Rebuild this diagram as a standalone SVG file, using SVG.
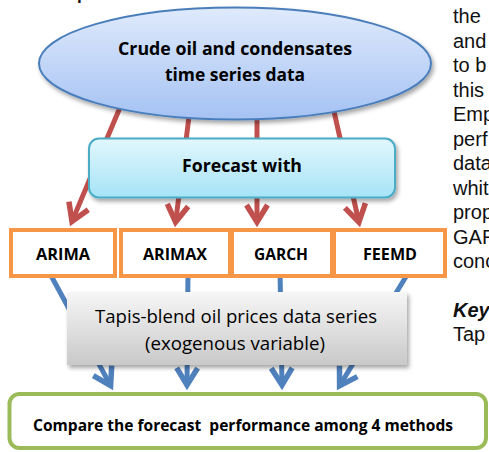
<svg xmlns="http://www.w3.org/2000/svg" width="489" height="452" viewBox="0 0 489 452">
  <style>
    .lbl { font-family: "Open Sans", "Liberation Sans", sans-serif; fill: #000; text-anchor: middle; }
    .b { font-weight: bold; }
    .side { font-family: "Liberation Sans", Arial, sans-serif; font-size: 20px; fill: #111; }
    .red { fill: none; stroke: #c0504d; stroke-width: 5; }
    .blue { fill: none; stroke: #4f81bd; stroke-width: 5; }
    .method { fill: #fff; stroke: #f79646; stroke-width: 4; }
  </style>
  <defs>
    <linearGradient id="gEll" x1="0" y1="0" x2="0" y2="1">
      <stop offset="0" stop-color="#dfeafc"/>
      <stop offset="1" stop-color="#a5c2f3"/>
    </linearGradient>
    <linearGradient id="gFc" x1="0" y1="0" x2="0" y2="1">
      <stop offset="0" stop-color="#e2f7fd"/>
      <stop offset="1" stop-color="#a6e3f7"/>
    </linearGradient>
    <linearGradient id="gTp" x1="0" y1="0" x2="0" y2="1">
      <stop offset="0" stop-color="#f6f6f6"/>
      <stop offset="1" stop-color="#c9c9c9"/>
    </linearGradient>
    <filter id="sh" x="-10%" y="-10%" width="130%" height="140%">
      <feDropShadow dx="2" dy="3" stdDeviation="2" flood-color="#000" flood-opacity="0.35"/>
    </filter>
    <marker id="arR" markerUnits="userSpaceOnUse" markerWidth="40" markerHeight="40" viewBox="-25 -20 40 40" refX="0" refY="0" orient="auto" overflow="visible">
      <path d="M-17,-10.5 L0,0 L-17,10.5" fill="none" stroke="#c0504d" stroke-width="5.5"/>
    </marker>
    <marker id="arB" markerUnits="userSpaceOnUse" markerWidth="40" markerHeight="40" viewBox="-25 -20 40 40" refX="0" refY="0" orient="auto" overflow="visible">
      <path d="M-17,-10.5 L0,0 L-17,10.5" fill="none" stroke="#4f81bd" stroke-width="5.5"/>
    </marker>
  </defs>

  <rect x="0" y="0" width="489" height="452" fill="#fff"/>

  <!-- fragment of heading cut off at top -->
  <text x="77" y="-0.5" font-family="Liberation Sans, Arial, sans-serif" font-weight="bold" font-size="17" fill="#111">p</text>

  <g id="connectors">
    <line class="red" x1="124" y1="98" x2="72" y2="221.4" marker-end="url(#arR)"/>
    <line class="red" x1="190.5" y1="105" x2="175.6" y2="222" marker-end="url(#arR)"/>
    <line class="red" x1="257" y1="105" x2="257" y2="222" marker-end="url(#arR)"/>
    <line class="red" x1="331" y1="98" x2="358.9" y2="222.1" marker-end="url(#arR)"/>

    <line class="blue" x1="48" y1="270" x2="110.6" y2="385.6" marker-end="url(#arB)"/>
    <line class="blue" x1="188" y1="270" x2="187" y2="385" marker-end="url(#arB)"/>
    <line class="blue" x1="280" y1="270" x2="282" y2="385" marker-end="url(#arB)"/>
    <line class="blue" x1="410" y1="270" x2="339.6" y2="385.7" marker-end="url(#arB)"/>
  </g>

  <g id="crude">
    <ellipse cx="235" cy="63.5" rx="196" ry="56" fill="url(#gEll)" stroke="#4a7ebb" stroke-width="2" filter="url(#sh)"/>
    <text class="lbl b" x="235" y="55" font-size="17.5" textLength="234" lengthAdjust="spacingAndGlyphs">Crude oil and condensates</text>
    <text class="lbl b" x="235" y="81" font-size="17.5" textLength="140" lengthAdjust="spacingAndGlyphs">time series data</text>
  </g>

  <g id="forecast">
    <rect x="89" y="138.5" width="306" height="59" rx="10" fill="url(#gFc)" stroke="#4bacc6" stroke-width="2" filter="url(#sh)"/>
    <text class="lbl b" x="242" y="172" font-size="17.5" textLength="120" lengthAdjust="spacingAndGlyphs">Forecast with</text>
  </g>

  <g id="arima">
    <rect class="method" x="11" y="230" width="104" height="46"/>
    <text class="lbl b" x="63" y="259.5" font-size="16.5" textLength="54" lengthAdjust="spacingAndGlyphs">ARIMA</text>
  </g>
  <g id="arimax">
    <rect class="method" x="121" y="230" width="109" height="46"/>
    <text class="lbl b" x="175" y="259.5" font-size="16.5" textLength="64" lengthAdjust="spacingAndGlyphs">ARIMAX</text>
  </g>
  <g id="garch">
    <rect class="method" x="232" y="230" width="100" height="46"/>
    <text class="lbl b" x="281" y="259.5" font-size="16.5" textLength="54" lengthAdjust="spacingAndGlyphs">GARCH</text>
  </g>
  <g id="feemd">
    <rect class="method" x="334" y="230" width="111" height="46"/>
    <text class="lbl b" x="390" y="259.5" font-size="16.5" textLength="54" lengthAdjust="spacingAndGlyphs">FEEMD</text>
  </g>

  <g id="tapis">
    <rect x="67" y="292" width="340" height="73" fill="url(#gTp)" filter="url(#sh)"/>
    <text class="lbl" x="236" y="323" font-size="17.5" textLength="282" lengthAdjust="spacingAndGlyphs">Tapis-blend oil prices data series</text>
    <text class="lbl" x="235" y="350" font-size="17.5" textLength="180" lengthAdjust="spacingAndGlyphs">(exogenous variable)</text>
  </g>

  <g id="compare">
    <rect x="9.5" y="394" width="476.5" height="54" rx="10" fill="#fff" stroke="#9bbb59" stroke-width="4"/>
    <text class="lbl b" x="243" y="431" font-size="16" textLength="420" lengthAdjust="spacingAndGlyphs" xml:space="preserve">Compare the forecast  performance among 4 methods</text>
  </g>

  <g id="side-text">
    <text class="side" x="453" y="23">the</text>
    <text class="side" x="453" y="47.5">and</text>
    <text class="side" x="453" y="72">to b</text>
    <text class="side" x="453" y="96.5">this</text>
    <text class="side" x="453" y="121">Emp</text>
    <text class="side" x="453" y="145.5">perf</text>
    <text class="side" x="453" y="170">data</text>
    <text class="side" x="453" y="194.5">whit</text>
    <text class="side" x="453" y="219">prop</text>
    <text class="side" x="453" y="243.5">GAR</text>
    <text class="side" x="453" y="268">conc</text>
    <text class="side" x="453" y="317" font-weight="bold" font-style="italic">Key</text>
    <text class="side" x="453" y="341">Tap</text>
  </g>
</svg>
